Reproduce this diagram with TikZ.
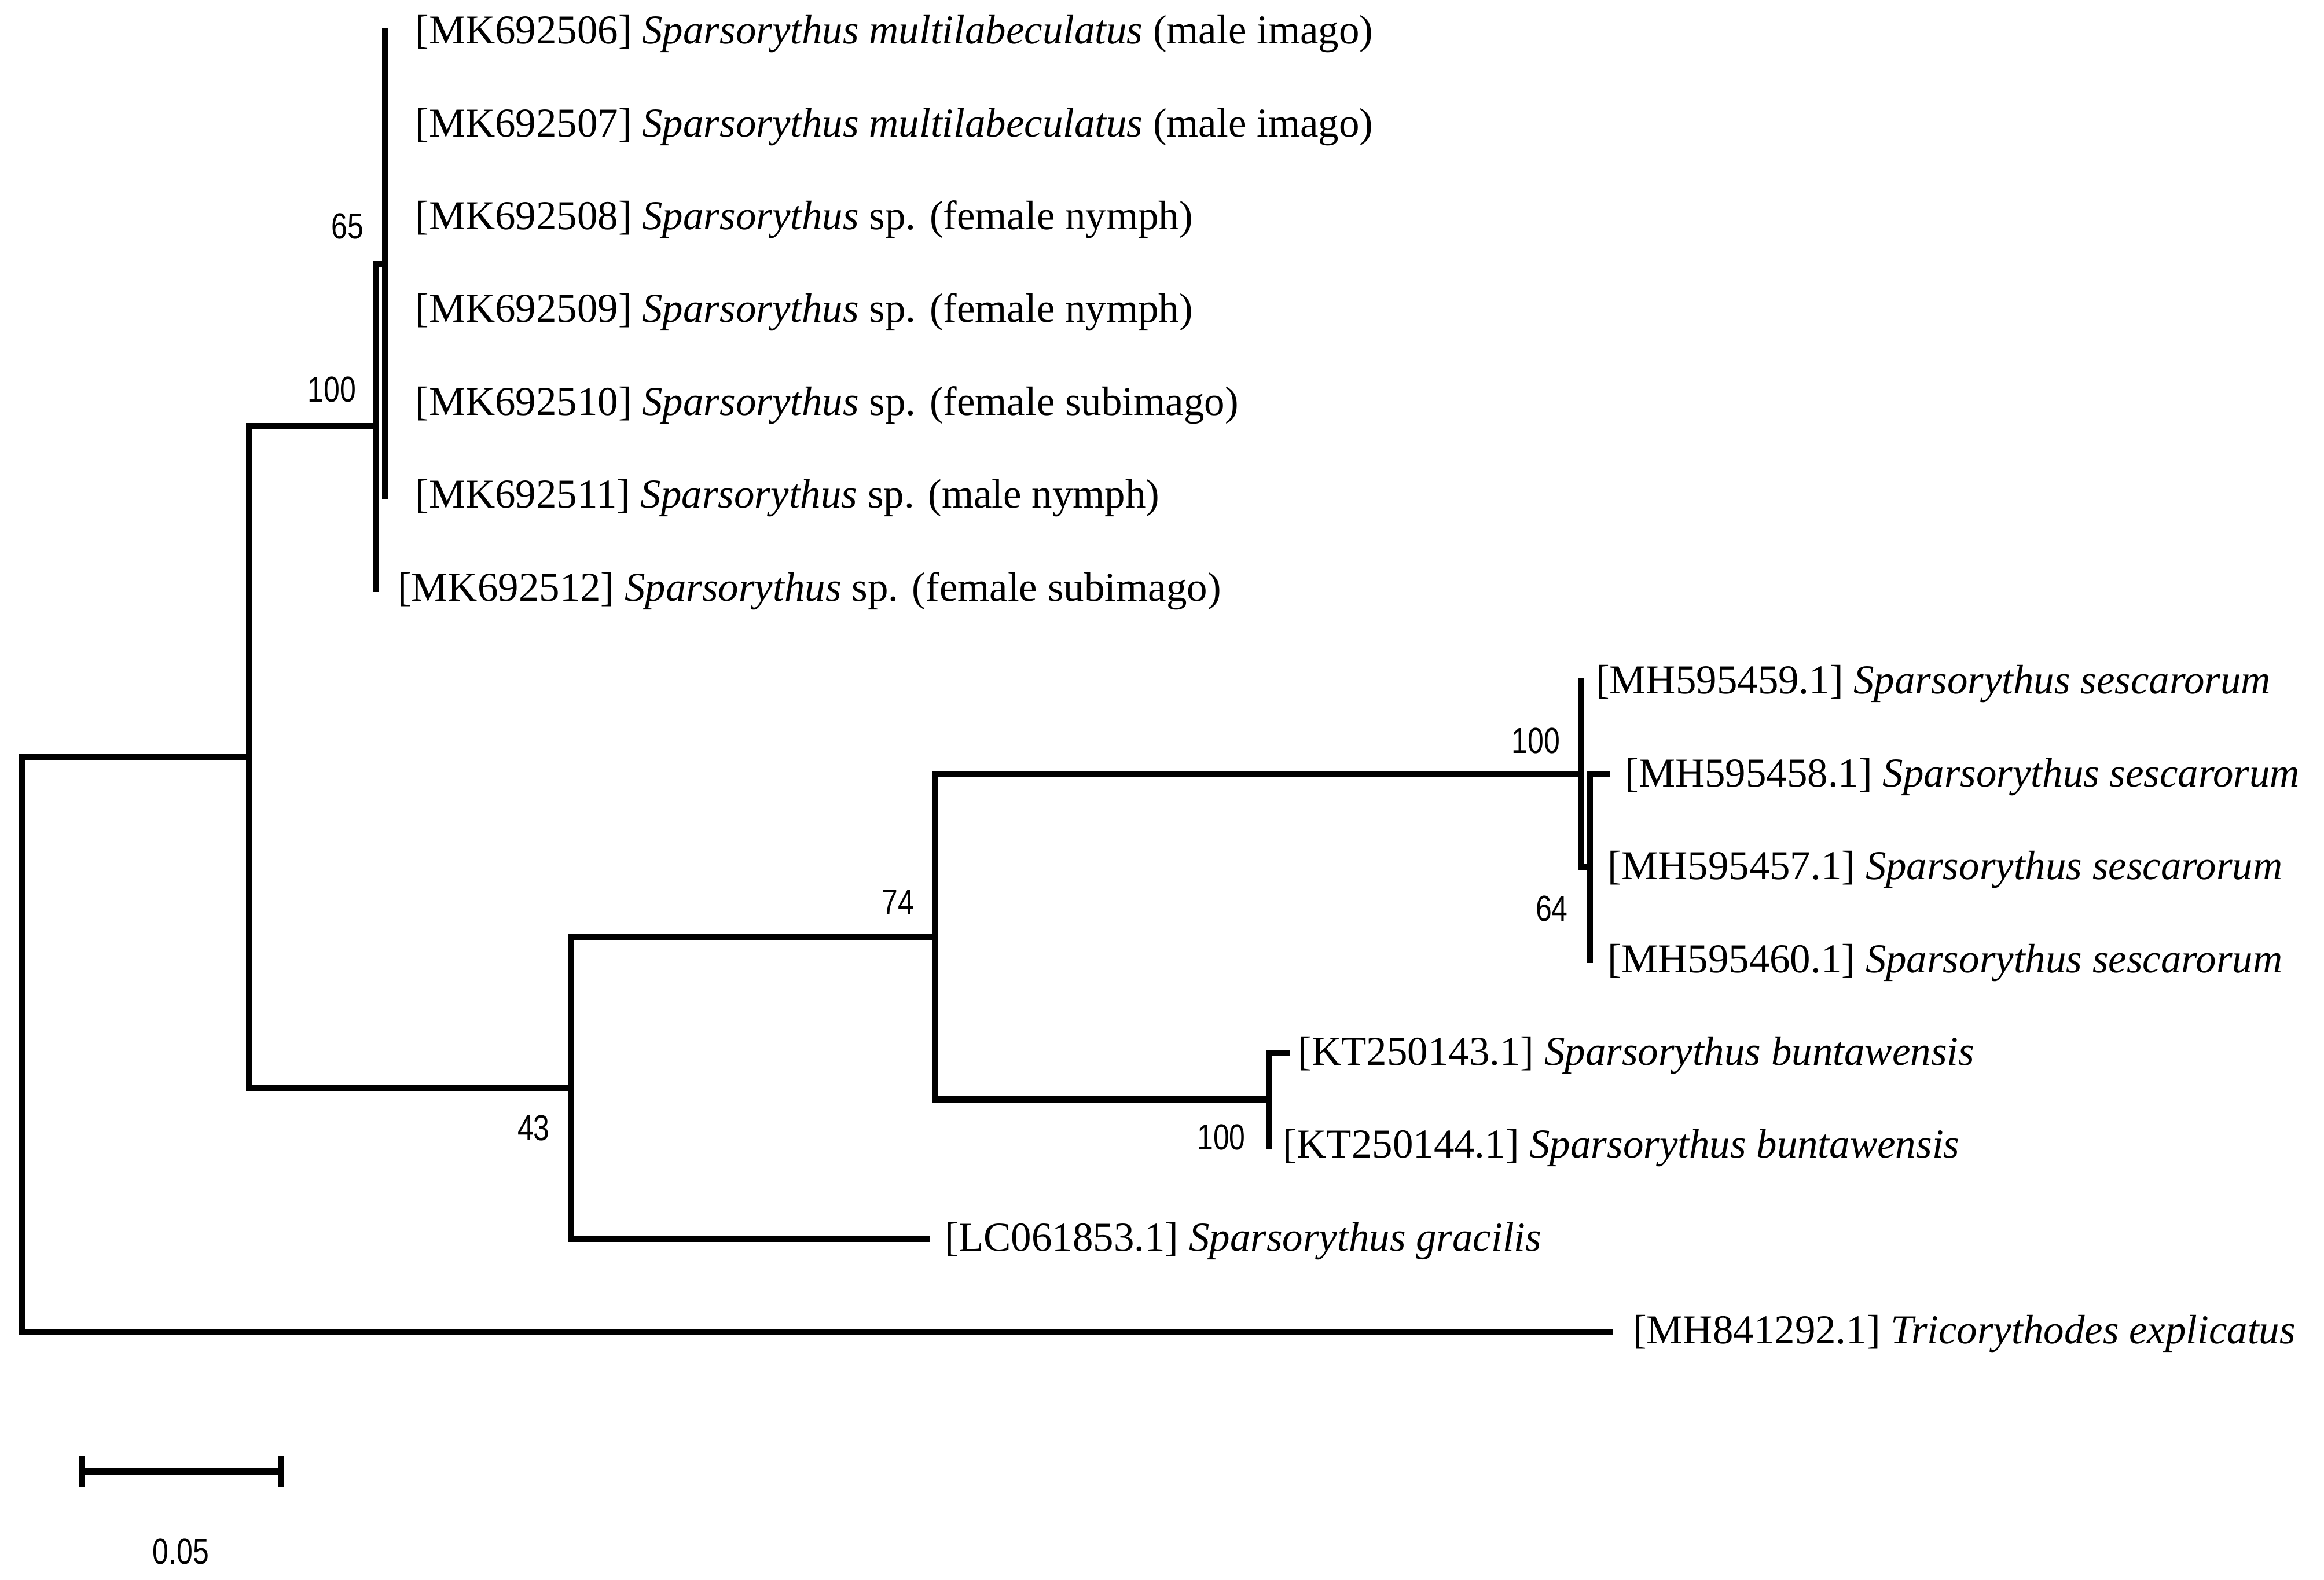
\documentclass[tikz,border=0pt]{standalone}
\usepackage{fontspec}
\setmainfont{Liberation Serif}
\newfontfamily\bootfont[FakeStretch=0.8]{Liberation Sans}

\begin{document}
\begin{tikzpicture}[x=1pt, y=1pt,
    branch/.style={line width=4.1pt, line cap=rect},
    taxon/.style={anchor=base west, inner sep=0pt, font=\fontsize{27.7}{33}\selectfont},
    boot/.style={inner sep=0pt, font=\bootfont\fontsize{24.4}{28}\selectfont}]
  \useasboundingbox (0,0) rectangle (1568,-1066);

  % tips and inner nodes of the tree
  \coordinate (t1) at (259.7,-21.3);
  \coordinate (t6) at (259.7,-334.6);
  \coordinate (n65) at (259.7,-178.0);
  \coordinate (n100a) at (253.7,-287.6);
  \coordinate (t7) at (253.7,-397.3);
  \coordinate (nA) at (168,-510.8);
  \coordinate (root) at (15,-704.7);
  \coordinate (t15) at (1086.5,-898.6);
  \coordinate (n43) at (385,-734.0);
  \coordinate (t14) at (625.6,-835.9);
  \coordinate (n74) at (631,-632.2);
  \coordinate (n100b) at (1067,-522.6);
  \coordinate (t8) at (1067,-459.9);
  \coordinate (n64) at (1072.8,-585.2);
  \coordinate (t9) at (1084.3,-522.6);
  \coordinate (t11) at (1072.8,-647.9);
  \coordinate (nbunt) at (856,-741.9);
  \coordinate (t12) at (868,-710.6);
  \coordinate (t13) at (856,-773.2);

  \draw[branch] (nA) -| (root) |- (t15);
  \draw[branch] (n100a) -| (nA) |- (n43);
  \draw[branch] (n65) -| (n100a) |- (t7);
  \draw[branch] (t1) -- (t6);
  \draw[branch] (n74) -| (n43) |- (t14);
  \draw[branch] (n100b) -| (n74) |- (nbunt);
  \draw[branch] (t8) |- (n64);
  \draw[branch] (t9) -| (t11);
  \draw[branch] (t12) -| (t13);

  % taxa
  \node[taxon] (mk506) at (280.0,-29.5) {[MK692506] \textit{Sparsorythus multilabeculatus} (male imago)};
  \node[taxon] (mk507) at (280.0,-92.2) {[MK692507] \textit{Sparsorythus multilabeculatus} (male imago)};
  \node[taxon] (mk508) at (280.0,-154.8) {[MK692508] \textit{Sparsorythus} sp. (female nymph)};
  \node[taxon] (mk509) at (280.0,-217.5) {[MK692509] \textit{Sparsorythus} sp. (female nymph)};
  \node[taxon] (mk510) at (280.0,-280.2) {[MK692510] \textit{Sparsorythus} sp. (female subimago)};
  \node[taxon] (mk511) at (280.0,-342.8) {[MK692511] \textit{Sparsorythus} sp. (male nymph)};
  \node[taxon] (mk512) at (268.2,-405.5) {[MK692512] \textit{Sparsorythus} sp. (female subimago)};
  \node[taxon] (mh459) at (1076.6,-468.1) {[MH595459.1] \textit{Sparsorythus sescarorum}};
  \node[taxon] (mh458) at (1096.2,-530.8) {[MH595458.1] \textit{Sparsorythus sescarorum}};
  \node[taxon] (mh457) at (1084.6,-593.4) {[MH595457.1] \textit{Sparsorythus sescarorum}};
  \node[taxon] (mh460) at (1084.6,-656.1) {[MH595460.1] \textit{Sparsorythus sescarorum}};
  \node[taxon] (kt143) at (875.6,-718.8) {[KT250143.1] \textit{Sparsorythus buntawensis}};
  \node[taxon] (kt144) at (865.6,-781.4) {[KT250144.1] \textit{Sparsorythus buntawensis}};
  \node[taxon] (lc853) at (637.4,-844.1) {[LC061853.1] \textit{Sparsorythus gracilis}};
  \node[taxon] (mh292) at (1101.6,-906.8) {[MH841292.1] \textit{Tricorythodes explicatus}};

  % bootstrap values
  \node[boot] (b65) at (234.5,-152.5) {65};
  \node[boot] (b100a) at (224,-263) {100};
  \node[boot] (b100b) at (1036.3,-499.8) {100};
  \node[boot] (b74) at (606,-609) {74};
  \node[boot] (b64) at (1047,-613) {64};
  \node[boot] (b43) at (360,-761) {43};
  \node[boot] (b100c) at (824,-767.3) {100};

  % scale bar
  \coordinate (sbL) at (55,-993);
  \coordinate (sbR) at (189.4,-993);
  \draw[line width=4.1pt] (sbL) -- (sbR);
  \draw[line width=4.1pt] ([yshift=10.5pt]sbL) -- ([yshift=-10.5pt]sbL);
  \draw[line width=4.1pt] ([yshift=10.5pt]sbR) -- ([yshift=-10.5pt]sbR);
  \node[boot] (sblabel) at (122,-1047) {0.05};
\end{tikzpicture}
\end{document}
